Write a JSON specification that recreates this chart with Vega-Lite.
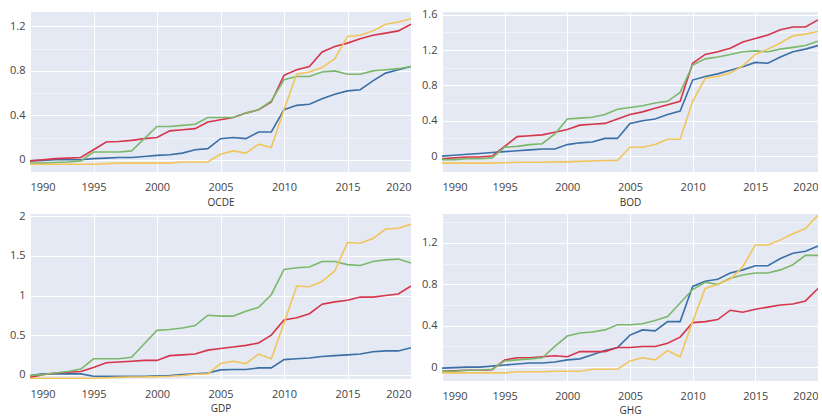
{
"$schema": "https://vega.github.io/schema/vega-lite/v6.json",
"padding": {"left": 9, "top": 8, "right": 0, "bottom": 0},
"background": "white",
"config": {
"view": {"fill": "#e4e9f3", "stroke": null},
"font": "Open Sans",
"axis": {"domain": false, "ticks": false, "gridColor": "white", "gridWidth": 1, "labelFont": "Open Sans", "labelFontSize": 11, "labelColor": "#444", "titleFont": "Open Sans", "titleFontSize": 10, "titleFontWeight": "normal", "titleColor": "#333"}
},
"datasets": {
"series": [
{"p":"OCDE","s":"s1","x":1990,"v":-0.01},{"p":"OCDE","s":"s1","x":1991,"v":-0.005},{"p":"OCDE","s":"s1","x":1992,"v":0},{"p":"OCDE","s":"s1","x":1993,"v":0},{"p":"OCDE","s":"s1","x":1994,"v":0},{"p":"OCDE","s":"s1","x":1995,"v":0.01},{"p":"OCDE","s":"s1","x":1996,"v":0.015},{"p":"OCDE","s":"s1","x":1997,"v":0.02},{"p":"OCDE","s":"s1","x":1998,"v":0.02},{"p":"OCDE","s":"s1","x":1999,"v":0.03},{"p":"OCDE","s":"s1","x":2000,"v":0.04},{"p":"OCDE","s":"s1","x":2001,"v":0.045},{"p":"OCDE","s":"s1","x":2002,"v":0.06},{"p":"OCDE","s":"s1","x":2003,"v":0.09},{"p":"OCDE","s":"s1","x":2004,"v":0.1},{"p":"OCDE","s":"s1","x":2005,"v":0.19},{"p":"OCDE","s":"s1","x":2006,"v":0.2},{"p":"OCDE","s":"s1","x":2007,"v":0.19},{"p":"OCDE","s":"s1","x":2008,"v":0.25},{"p":"OCDE","s":"s1","x":2009,"v":0.25},{"p":"OCDE","s":"s1","x":2010,"v":0.45},{"p":"OCDE","s":"s1","x":2011,"v":0.49},{"p":"OCDE","s":"s1","x":2012,"v":0.5},{"p":"OCDE","s":"s1","x":2013,"v":0.55},{"p":"OCDE","s":"s1","x":2014,"v":0.59},{"p":"OCDE","s":"s1","x":2015,"v":0.62},{"p":"OCDE","s":"s1","x":2016,"v":0.63},{"p":"OCDE","s":"s1","x":2017,"v":0.71},{"p":"OCDE","s":"s1","x":2018,"v":0.78},{"p":"OCDE","s":"s1","x":2019,"v":0.81},{"p":"OCDE","s":"s1","x":2020,"v":0.84},
{"p":"OCDE","s":"s2","x":1990,"v":-0.01},{"p":"OCDE","s":"s2","x":1991,"v":0},{"p":"OCDE","s":"s2","x":1992,"v":0.01},{"p":"OCDE","s":"s2","x":1993,"v":0.015},{"p":"OCDE","s":"s2","x":1994,"v":0.02},{"p":"OCDE","s":"s2","x":1995,"v":0.09},{"p":"OCDE","s":"s2","x":1996,"v":0.16},{"p":"OCDE","s":"s2","x":1997,"v":0.165},{"p":"OCDE","s":"s2","x":1998,"v":0.175},{"p":"OCDE","s":"s2","x":1999,"v":0.19},{"p":"OCDE","s":"s2","x":2000,"v":0.2},{"p":"OCDE","s":"s2","x":2001,"v":0.26},{"p":"OCDE","s":"s2","x":2002,"v":0.27},{"p":"OCDE","s":"s2","x":2003,"v":0.28},{"p":"OCDE","s":"s2","x":2004,"v":0.34},{"p":"OCDE","s":"s2","x":2005,"v":0.36},{"p":"OCDE","s":"s2","x":2006,"v":0.38},{"p":"OCDE","s":"s2","x":2007,"v":0.42},{"p":"OCDE","s":"s2","x":2008,"v":0.45},{"p":"OCDE","s":"s2","x":2009,"v":0.52},{"p":"OCDE","s":"s2","x":2010,"v":0.76},{"p":"OCDE","s":"s2","x":2011,"v":0.81},{"p":"OCDE","s":"s2","x":2012,"v":0.84},{"p":"OCDE","s":"s2","x":2013,"v":0.97},{"p":"OCDE","s":"s2","x":2014,"v":1.02},{"p":"OCDE","s":"s2","x":2015,"v":1.05},{"p":"OCDE","s":"s2","x":2016,"v":1.09},{"p":"OCDE","s":"s2","x":2017,"v":1.12},{"p":"OCDE","s":"s2","x":2018,"v":1.14},{"p":"OCDE","s":"s2","x":2019,"v":1.16},{"p":"OCDE","s":"s2","x":2020,"v":1.22},
{"p":"OCDE","s":"s3","x":1990,"v":-0.03},{"p":"OCDE","s":"s3","x":1991,"v":-0.03},{"p":"OCDE","s":"s3","x":1992,"v":-0.025},{"p":"OCDE","s":"s3","x":1993,"v":-0.02},{"p":"OCDE","s":"s3","x":1994,"v":-0.01},{"p":"OCDE","s":"s3","x":1995,"v":0.07},{"p":"OCDE","s":"s3","x":1996,"v":0.07},{"p":"OCDE","s":"s3","x":1997,"v":0.07},{"p":"OCDE","s":"s3","x":1998,"v":0.08},{"p":"OCDE","s":"s3","x":1999,"v":0.19},{"p":"OCDE","s":"s3","x":2000,"v":0.3},{"p":"OCDE","s":"s3","x":2001,"v":0.3},{"p":"OCDE","s":"s3","x":2002,"v":0.31},{"p":"OCDE","s":"s3","x":2003,"v":0.32},{"p":"OCDE","s":"s3","x":2004,"v":0.38},{"p":"OCDE","s":"s3","x":2005,"v":0.38},{"p":"OCDE","s":"s3","x":2006,"v":0.38},{"p":"OCDE","s":"s3","x":2007,"v":0.42},{"p":"OCDE","s":"s3","x":2008,"v":0.45},{"p":"OCDE","s":"s3","x":2009,"v":0.53},{"p":"OCDE","s":"s3","x":2010,"v":0.72},{"p":"OCDE","s":"s3","x":2011,"v":0.75},{"p":"OCDE","s":"s3","x":2012,"v":0.75},{"p":"OCDE","s":"s3","x":2013,"v":0.79},{"p":"OCDE","s":"s3","x":2014,"v":0.8},{"p":"OCDE","s":"s3","x":2015,"v":0.77},{"p":"OCDE","s":"s3","x":2016,"v":0.77},{"p":"OCDE","s":"s3","x":2017,"v":0.8},{"p":"OCDE","s":"s3","x":2018,"v":0.81},{"p":"OCDE","s":"s3","x":2019,"v":0.82},{"p":"OCDE","s":"s3","x":2020,"v":0.84},
{"p":"OCDE","s":"s4","x":1990,"v":-0.04},{"p":"OCDE","s":"s4","x":1991,"v":-0.04},{"p":"OCDE","s":"s4","x":1992,"v":-0.04},{"p":"OCDE","s":"s4","x":1993,"v":-0.04},{"p":"OCDE","s":"s4","x":1994,"v":-0.04},{"p":"OCDE","s":"s4","x":1995,"v":-0.04},{"p":"OCDE","s":"s4","x":1996,"v":-0.035},{"p":"OCDE","s":"s4","x":1997,"v":-0.03},{"p":"OCDE","s":"s4","x":1998,"v":-0.03},{"p":"OCDE","s":"s4","x":1999,"v":-0.03},{"p":"OCDE","s":"s4","x":2000,"v":-0.03},{"p":"OCDE","s":"s4","x":2001,"v":-0.03},{"p":"OCDE","s":"s4","x":2002,"v":-0.02},{"p":"OCDE","s":"s4","x":2003,"v":-0.02},{"p":"OCDE","s":"s4","x":2004,"v":-0.02},{"p":"OCDE","s":"s4","x":2005,"v":0.05},{"p":"OCDE","s":"s4","x":2006,"v":0.08},{"p":"OCDE","s":"s4","x":2007,"v":0.06},{"p":"OCDE","s":"s4","x":2008,"v":0.14},{"p":"OCDE","s":"s4","x":2009,"v":0.11},{"p":"OCDE","s":"s4","x":2010,"v":0.45},{"p":"OCDE","s":"s4","x":2011,"v":0.77},{"p":"OCDE","s":"s4","x":2012,"v":0.79},{"p":"OCDE","s":"s4","x":2013,"v":0.83},{"p":"OCDE","s":"s4","x":2014,"v":0.91},{"p":"OCDE","s":"s4","x":2015,"v":1.11},{"p":"OCDE","s":"s4","x":2016,"v":1.12},{"p":"OCDE","s":"s4","x":2017,"v":1.16},{"p":"OCDE","s":"s4","x":2018,"v":1.22},{"p":"OCDE","s":"s4","x":2019,"v":1.24},{"p":"OCDE","s":"s4","x":2020,"v":1.27},
{"p":"BOD","s":"s1","x":1990,"v":0},{"p":"BOD","s":"s1","x":1991,"v":0.01},{"p":"BOD","s":"s1","x":1992,"v":0.02},{"p":"BOD","s":"s1","x":1993,"v":0.03},{"p":"BOD","s":"s1","x":1994,"v":0.04},{"p":"BOD","s":"s1","x":1995,"v":0.05},{"p":"BOD","s":"s1","x":1996,"v":0.06},{"p":"BOD","s":"s1","x":1997,"v":0.07},{"p":"BOD","s":"s1","x":1998,"v":0.08},{"p":"BOD","s":"s1","x":1999,"v":0.08},{"p":"BOD","s":"s1","x":2000,"v":0.13},{"p":"BOD","s":"s1","x":2001,"v":0.15},{"p":"BOD","s":"s1","x":2002,"v":0.16},{"p":"BOD","s":"s1","x":2003,"v":0.2},{"p":"BOD","s":"s1","x":2004,"v":0.2},{"p":"BOD","s":"s1","x":2005,"v":0.37},{"p":"BOD","s":"s1","x":2006,"v":0.4},{"p":"BOD","s":"s1","x":2007,"v":0.42},{"p":"BOD","s":"s1","x":2008,"v":0.47},{"p":"BOD","s":"s1","x":2009,"v":0.51},{"p":"BOD","s":"s1","x":2010,"v":0.86},{"p":"BOD","s":"s1","x":2011,"v":0.9},{"p":"BOD","s":"s1","x":2012,"v":0.93},{"p":"BOD","s":"s1","x":2013,"v":0.97},{"p":"BOD","s":"s1","x":2014,"v":1.01},{"p":"BOD","s":"s1","x":2015,"v":1.06},{"p":"BOD","s":"s1","x":2016,"v":1.05},{"p":"BOD","s":"s1","x":2017,"v":1.12},{"p":"BOD","s":"s1","x":2018,"v":1.18},{"p":"BOD","s":"s1","x":2019,"v":1.21},{"p":"BOD","s":"s1","x":2020,"v":1.25},
{"p":"BOD","s":"s2","x":1990,"v":-0.03},{"p":"BOD","s":"s2","x":1991,"v":-0.02},{"p":"BOD","s":"s2","x":1992,"v":-0.01},{"p":"BOD","s":"s2","x":1993,"v":-0.01},{"p":"BOD","s":"s2","x":1994,"v":0},{"p":"BOD","s":"s2","x":1995,"v":0.11},{"p":"BOD","s":"s2","x":1996,"v":0.22},{"p":"BOD","s":"s2","x":1997,"v":0.23},{"p":"BOD","s":"s2","x":1998,"v":0.24},{"p":"BOD","s":"s2","x":1999,"v":0.27},{"p":"BOD","s":"s2","x":2000,"v":0.3},{"p":"BOD","s":"s2","x":2001,"v":0.35},{"p":"BOD","s":"s2","x":2002,"v":0.36},{"p":"BOD","s":"s2","x":2003,"v":0.37},{"p":"BOD","s":"s2","x":2004,"v":0.42},{"p":"BOD","s":"s2","x":2005,"v":0.47},{"p":"BOD","s":"s2","x":2006,"v":0.5},{"p":"BOD","s":"s2","x":2007,"v":0.54},{"p":"BOD","s":"s2","x":2008,"v":0.58},{"p":"BOD","s":"s2","x":2009,"v":0.62},{"p":"BOD","s":"s2","x":2010,"v":1.05},{"p":"BOD","s":"s2","x":2011,"v":1.15},{"p":"BOD","s":"s2","x":2012,"v":1.18},{"p":"BOD","s":"s2","x":2013,"v":1.22},{"p":"BOD","s":"s2","x":2014,"v":1.29},{"p":"BOD","s":"s2","x":2015,"v":1.33},{"p":"BOD","s":"s2","x":2016,"v":1.37},{"p":"BOD","s":"s2","x":2017,"v":1.43},{"p":"BOD","s":"s2","x":2018,"v":1.46},{"p":"BOD","s":"s2","x":2019,"v":1.46},{"p":"BOD","s":"s2","x":2020,"v":1.54},
{"p":"BOD","s":"s3","x":1990,"v":-0.04},{"p":"BOD","s":"s3","x":1991,"v":-0.04},{"p":"BOD","s":"s3","x":1992,"v":-0.03},{"p":"BOD","s":"s3","x":1993,"v":-0.03},{"p":"BOD","s":"s3","x":1994,"v":-0.02},{"p":"BOD","s":"s3","x":1995,"v":0.1},{"p":"BOD","s":"s3","x":1996,"v":0.11},{"p":"BOD","s":"s3","x":1997,"v":0.13},{"p":"BOD","s":"s3","x":1998,"v":0.14},{"p":"BOD","s":"s3","x":1999,"v":0.25},{"p":"BOD","s":"s3","x":2000,"v":0.42},{"p":"BOD","s":"s3","x":2001,"v":0.43},{"p":"BOD","s":"s3","x":2002,"v":0.44},{"p":"BOD","s":"s3","x":2003,"v":0.47},{"p":"BOD","s":"s3","x":2004,"v":0.53},{"p":"BOD","s":"s3","x":2005,"v":0.55},{"p":"BOD","s":"s3","x":2006,"v":0.57},{"p":"BOD","s":"s3","x":2007,"v":0.6},{"p":"BOD","s":"s3","x":2008,"v":0.62},{"p":"BOD","s":"s3","x":2009,"v":0.72},{"p":"BOD","s":"s3","x":2010,"v":1.03},{"p":"BOD","s":"s3","x":2011,"v":1.1},{"p":"BOD","s":"s3","x":2012,"v":1.12},{"p":"BOD","s":"s3","x":2013,"v":1.15},{"p":"BOD","s":"s3","x":2014,"v":1.18},{"p":"BOD","s":"s3","x":2015,"v":1.19},{"p":"BOD","s":"s3","x":2016,"v":1.18},{"p":"BOD","s":"s3","x":2017,"v":1.21},{"p":"BOD","s":"s3","x":2018,"v":1.23},{"p":"BOD","s":"s3","x":2019,"v":1.25},{"p":"BOD","s":"s3","x":2020,"v":1.3},
{"p":"BOD","s":"s4","x":1990,"v":-0.08},{"p":"BOD","s":"s4","x":1991,"v":-0.08},{"p":"BOD","s":"s4","x":1992,"v":-0.08},{"p":"BOD","s":"s4","x":1993,"v":-0.08},{"p":"BOD","s":"s4","x":1994,"v":-0.08},{"p":"BOD","s":"s4","x":1995,"v":-0.075},{"p":"BOD","s":"s4","x":1996,"v":-0.07},{"p":"BOD","s":"s4","x":1997,"v":-0.07},{"p":"BOD","s":"s4","x":1998,"v":-0.07},{"p":"BOD","s":"s4","x":1999,"v":-0.065},{"p":"BOD","s":"s4","x":2000,"v":-0.065},{"p":"BOD","s":"s4","x":2001,"v":-0.06},{"p":"BOD","s":"s4","x":2002,"v":-0.055},{"p":"BOD","s":"s4","x":2003,"v":-0.05},{"p":"BOD","s":"s4","x":2004,"v":-0.05},{"p":"BOD","s":"s4","x":2005,"v":0.1},{"p":"BOD","s":"s4","x":2006,"v":0.1},{"p":"BOD","s":"s4","x":2007,"v":0.13},{"p":"BOD","s":"s4","x":2008,"v":0.19},{"p":"BOD","s":"s4","x":2009,"v":0.19},{"p":"BOD","s":"s4","x":2010,"v":0.62},{"p":"BOD","s":"s4","x":2011,"v":0.88},{"p":"BOD","s":"s4","x":2012,"v":0.9},{"p":"BOD","s":"s4","x":2013,"v":0.94},{"p":"BOD","s":"s4","x":2014,"v":1.02},{"p":"BOD","s":"s4","x":2015,"v":1.15},{"p":"BOD","s":"s4","x":2016,"v":1.21},{"p":"BOD","s":"s4","x":2017,"v":1.28},{"p":"BOD","s":"s4","x":2018,"v":1.36},{"p":"BOD","s":"s4","x":2019,"v":1.38},{"p":"BOD","s":"s4","x":2020,"v":1.41},
{"p":"GDP","s":"s1","x":1990,"v":-0.01},{"p":"GDP","s":"s1","x":1991,"v":0.01},{"p":"GDP","s":"s1","x":1992,"v":0.01},{"p":"GDP","s":"s1","x":1993,"v":0.01},{"p":"GDP","s":"s1","x":1994,"v":0.01},{"p":"GDP","s":"s1","x":1995,"v":-0.02},{"p":"GDP","s":"s1","x":1996,"v":-0.02},{"p":"GDP","s":"s1","x":1997,"v":-0.02},{"p":"GDP","s":"s1","x":1998,"v":-0.02},{"p":"GDP","s":"s1","x":1999,"v":-0.02},{"p":"GDP","s":"s1","x":2000,"v":-0.015},{"p":"GDP","s":"s1","x":2001,"v":-0.01},{"p":"GDP","s":"s1","x":2002,"v":0},{"p":"GDP","s":"s1","x":2003,"v":0.01},{"p":"GDP","s":"s1","x":2004,"v":0.02},{"p":"GDP","s":"s1","x":2005,"v":0.06},{"p":"GDP","s":"s1","x":2006,"v":0.065},{"p":"GDP","s":"s1","x":2007,"v":0.065},{"p":"GDP","s":"s1","x":2008,"v":0.085},{"p":"GDP","s":"s1","x":2009,"v":0.085},{"p":"GDP","s":"s1","x":2010,"v":0.19},{"p":"GDP","s":"s1","x":2011,"v":0.2},{"p":"GDP","s":"s1","x":2012,"v":0.21},{"p":"GDP","s":"s1","x":2013,"v":0.23},{"p":"GDP","s":"s1","x":2014,"v":0.24},{"p":"GDP","s":"s1","x":2015,"v":0.25},{"p":"GDP","s":"s1","x":2016,"v":0.26},{"p":"GDP","s":"s1","x":2017,"v":0.29},{"p":"GDP","s":"s1","x":2018,"v":0.3},{"p":"GDP","s":"s1","x":2019,"v":0.3},{"p":"GDP","s":"s1","x":2020,"v":0.34},
{"p":"GDP","s":"s2","x":1990,"v":-0.035},{"p":"GDP","s":"s2","x":1991,"v":0},{"p":"GDP","s":"s2","x":1992,"v":0.02},{"p":"GDP","s":"s2","x":1993,"v":0.03},{"p":"GDP","s":"s2","x":1994,"v":0.04},{"p":"GDP","s":"s2","x":1995,"v":0.09},{"p":"GDP","s":"s2","x":1996,"v":0.15},{"p":"GDP","s":"s2","x":1997,"v":0.16},{"p":"GDP","s":"s2","x":1998,"v":0.17},{"p":"GDP","s":"s2","x":1999,"v":0.18},{"p":"GDP","s":"s2","x":2000,"v":0.18},{"p":"GDP","s":"s2","x":2001,"v":0.24},{"p":"GDP","s":"s2","x":2002,"v":0.25},{"p":"GDP","s":"s2","x":2003,"v":0.26},{"p":"GDP","s":"s2","x":2004,"v":0.31},{"p":"GDP","s":"s2","x":2005,"v":0.33},{"p":"GDP","s":"s2","x":2006,"v":0.35},{"p":"GDP","s":"s2","x":2007,"v":0.37},{"p":"GDP","s":"s2","x":2008,"v":0.4},{"p":"GDP","s":"s2","x":2009,"v":0.5},{"p":"GDP","s":"s2","x":2010,"v":0.69},{"p":"GDP","s":"s2","x":2011,"v":0.72},{"p":"GDP","s":"s2","x":2012,"v":0.77},{"p":"GDP","s":"s2","x":2013,"v":0.89},{"p":"GDP","s":"s2","x":2014,"v":0.92},{"p":"GDP","s":"s2","x":2015,"v":0.94},{"p":"GDP","s":"s2","x":2016,"v":0.98},{"p":"GDP","s":"s2","x":2017,"v":0.98},{"p":"GDP","s":"s2","x":2018,"v":1},{"p":"GDP","s":"s2","x":2019,"v":1.02},{"p":"GDP","s":"s2","x":2020,"v":1.12},
{"p":"GDP","s":"s3","x":1990,"v":-0.01},{"p":"GDP","s":"s3","x":1991,"v":0},{"p":"GDP","s":"s3","x":1992,"v":0.02},{"p":"GDP","s":"s3","x":1993,"v":0.04},{"p":"GDP","s":"s3","x":1994,"v":0.07},{"p":"GDP","s":"s3","x":1995,"v":0.2},{"p":"GDP","s":"s3","x":1996,"v":0.2},{"p":"GDP","s":"s3","x":1997,"v":0.2},{"p":"GDP","s":"s3","x":1998,"v":0.22},{"p":"GDP","s":"s3","x":1999,"v":0.39},{"p":"GDP","s":"s3","x":2000,"v":0.56},{"p":"GDP","s":"s3","x":2001,"v":0.57},{"p":"GDP","s":"s3","x":2002,"v":0.59},{"p":"GDP","s":"s3","x":2003,"v":0.62},{"p":"GDP","s":"s3","x":2004,"v":0.75},{"p":"GDP","s":"s3","x":2005,"v":0.74},{"p":"GDP","s":"s3","x":2006,"v":0.74},{"p":"GDP","s":"s3","x":2007,"v":0.8},{"p":"GDP","s":"s3","x":2008,"v":0.85},{"p":"GDP","s":"s3","x":2009,"v":1.01},{"p":"GDP","s":"s3","x":2010,"v":1.33},{"p":"GDP","s":"s3","x":2011,"v":1.35},{"p":"GDP","s":"s3","x":2012,"v":1.36},{"p":"GDP","s":"s3","x":2013,"v":1.43},{"p":"GDP","s":"s3","x":2014,"v":1.43},{"p":"GDP","s":"s3","x":2015,"v":1.39},{"p":"GDP","s":"s3","x":2016,"v":1.38},{"p":"GDP","s":"s3","x":2017,"v":1.43},{"p":"GDP","s":"s3","x":2018,"v":1.45},{"p":"GDP","s":"s3","x":2019,"v":1.46},{"p":"GDP","s":"s3","x":2020,"v":1.41},
{"p":"GDP","s":"s4","x":1990,"v":-0.045},{"p":"GDP","s":"s4","x":1991,"v":-0.045},{"p":"GDP","s":"s4","x":1992,"v":-0.045},{"p":"GDP","s":"s4","x":1993,"v":-0.045},{"p":"GDP","s":"s4","x":1994,"v":-0.045},{"p":"GDP","s":"s4","x":1995,"v":-0.045},{"p":"GDP","s":"s4","x":1996,"v":-0.04},{"p":"GDP","s":"s4","x":1997,"v":-0.035},{"p":"GDP","s":"s4","x":1998,"v":-0.03},{"p":"GDP","s":"s4","x":1999,"v":-0.03},{"p":"GDP","s":"s4","x":2000,"v":-0.025},{"p":"GDP","s":"s4","x":2001,"v":-0.02},{"p":"GDP","s":"s4","x":2002,"v":-0.01},{"p":"GDP","s":"s4","x":2003,"v":0.005},{"p":"GDP","s":"s4","x":2004,"v":0.01},{"p":"GDP","s":"s4","x":2005,"v":0.14},{"p":"GDP","s":"s4","x":2006,"v":0.17},{"p":"GDP","s":"s4","x":2007,"v":0.14},{"p":"GDP","s":"s4","x":2008,"v":0.26},{"p":"GDP","s":"s4","x":2009,"v":0.2},{"p":"GDP","s":"s4","x":2010,"v":0.65},{"p":"GDP","s":"s4","x":2011,"v":1.12},{"p":"GDP","s":"s4","x":2012,"v":1.11},{"p":"GDP","s":"s4","x":2013,"v":1.18},{"p":"GDP","s":"s4","x":2014,"v":1.31},{"p":"GDP","s":"s4","x":2015,"v":1.67},{"p":"GDP","s":"s4","x":2016,"v":1.66},{"p":"GDP","s":"s4","x":2017,"v":1.72},{"p":"GDP","s":"s4","x":2018,"v":1.84},{"p":"GDP","s":"s4","x":2019,"v":1.85},{"p":"GDP","s":"s4","x":2020,"v":1.9},
{"p":"GHG","s":"s1","x":1990,"v":-0.01},{"p":"GHG","s":"s1","x":1991,"v":-0.005},{"p":"GHG","s":"s1","x":1992,"v":0},{"p":"GHG","s":"s1","x":1993,"v":0},{"p":"GHG","s":"s1","x":1994,"v":0.01},{"p":"GHG","s":"s1","x":1995,"v":0.02},{"p":"GHG","s":"s1","x":1996,"v":0.03},{"p":"GHG","s":"s1","x":1997,"v":0.04},{"p":"GHG","s":"s1","x":1998,"v":0.04},{"p":"GHG","s":"s1","x":1999,"v":0.05},{"p":"GHG","s":"s1","x":2000,"v":0.07},{"p":"GHG","s":"s1","x":2001,"v":0.08},{"p":"GHG","s":"s1","x":2002,"v":0.12},{"p":"GHG","s":"s1","x":2003,"v":0.16},{"p":"GHG","s":"s1","x":2004,"v":0.19},{"p":"GHG","s":"s1","x":2005,"v":0.31},{"p":"GHG","s":"s1","x":2006,"v":0.36},{"p":"GHG","s":"s1","x":2007,"v":0.35},{"p":"GHG","s":"s1","x":2008,"v":0.44},{"p":"GHG","s":"s1","x":2009,"v":0.44},{"p":"GHG","s":"s1","x":2010,"v":0.78},{"p":"GHG","s":"s1","x":2011,"v":0.83},{"p":"GHG","s":"s1","x":2012,"v":0.85},{"p":"GHG","s":"s1","x":2013,"v":0.91},{"p":"GHG","s":"s1","x":2014,"v":0.94},{"p":"GHG","s":"s1","x":2015,"v":0.98},{"p":"GHG","s":"s1","x":2016,"v":0.98},{"p":"GHG","s":"s1","x":2017,"v":1.05},{"p":"GHG","s":"s1","x":2018,"v":1.1},{"p":"GHG","s":"s1","x":2019,"v":1.12},{"p":"GHG","s":"s1","x":2020,"v":1.17},
{"p":"GHG","s":"s2","x":1990,"v":-0.04},{"p":"GHG","s":"s2","x":1991,"v":-0.035},{"p":"GHG","s":"s2","x":1992,"v":-0.03},{"p":"GHG","s":"s2","x":1993,"v":-0.03},{"p":"GHG","s":"s2","x":1994,"v":-0.025},{"p":"GHG","s":"s2","x":1995,"v":0.07},{"p":"GHG","s":"s2","x":1996,"v":0.09},{"p":"GHG","s":"s2","x":1997,"v":0.09},{"p":"GHG","s":"s2","x":1998,"v":0.1},{"p":"GHG","s":"s2","x":1999,"v":0.11},{"p":"GHG","s":"s2","x":2000,"v":0.1},{"p":"GHG","s":"s2","x":2001,"v":0.15},{"p":"GHG","s":"s2","x":2002,"v":0.15},{"p":"GHG","s":"s2","x":2003,"v":0.15},{"p":"GHG","s":"s2","x":2004,"v":0.19},{"p":"GHG","s":"s2","x":2005,"v":0.19},{"p":"GHG","s":"s2","x":2006,"v":0.2},{"p":"GHG","s":"s2","x":2007,"v":0.2},{"p":"GHG","s":"s2","x":2008,"v":0.23},{"p":"GHG","s":"s2","x":2009,"v":0.29},{"p":"GHG","s":"s2","x":2010,"v":0.43},{"p":"GHG","s":"s2","x":2011,"v":0.44},{"p":"GHG","s":"s2","x":2012,"v":0.46},{"p":"GHG","s":"s2","x":2013,"v":0.55},{"p":"GHG","s":"s2","x":2014,"v":0.53},{"p":"GHG","s":"s2","x":2015,"v":0.56},{"p":"GHG","s":"s2","x":2016,"v":0.58},{"p":"GHG","s":"s2","x":2017,"v":0.6},{"p":"GHG","s":"s2","x":2018,"v":0.61},{"p":"GHG","s":"s2","x":2019,"v":0.64},{"p":"GHG","s":"s2","x":2020,"v":0.76},
{"p":"GHG","s":"s3","x":1990,"v":-0.04},{"p":"GHG","s":"s3","x":1991,"v":-0.04},{"p":"GHG","s":"s3","x":1992,"v":-0.03},{"p":"GHG","s":"s3","x":1993,"v":-0.03},{"p":"GHG","s":"s3","x":1994,"v":-0.02},{"p":"GHG","s":"s3","x":1995,"v":0.06},{"p":"GHG","s":"s3","x":1996,"v":0.07},{"p":"GHG","s":"s3","x":1997,"v":0.08},{"p":"GHG","s":"s3","x":1998,"v":0.09},{"p":"GHG","s":"s3","x":1999,"v":0.2},{"p":"GHG","s":"s3","x":2000,"v":0.3},{"p":"GHG","s":"s3","x":2001,"v":0.33},{"p":"GHG","s":"s3","x":2002,"v":0.34},{"p":"GHG","s":"s3","x":2003,"v":0.36},{"p":"GHG","s":"s3","x":2004,"v":0.41},{"p":"GHG","s":"s3","x":2005,"v":0.41},{"p":"GHG","s":"s3","x":2006,"v":0.42},{"p":"GHG","s":"s3","x":2007,"v":0.45},{"p":"GHG","s":"s3","x":2008,"v":0.49},{"p":"GHG","s":"s3","x":2009,"v":0.62},{"p":"GHG","s":"s3","x":2010,"v":0.75},{"p":"GHG","s":"s3","x":2011,"v":0.82},{"p":"GHG","s":"s3","x":2012,"v":0.8},{"p":"GHG","s":"s3","x":2013,"v":0.86},{"p":"GHG","s":"s3","x":2014,"v":0.89},{"p":"GHG","s":"s3","x":2015,"v":0.91},{"p":"GHG","s":"s3","x":2016,"v":0.91},{"p":"GHG","s":"s3","x":2017,"v":0.94},{"p":"GHG","s":"s3","x":2018,"v":0.99},{"p":"GHG","s":"s3","x":2019,"v":1.08},{"p":"GHG","s":"s3","x":2020,"v":1.08},
{"p":"GHG","s":"s4","x":1990,"v":-0.055},{"p":"GHG","s":"s4","x":1991,"v":-0.055},{"p":"GHG","s":"s4","x":1992,"v":-0.055},{"p":"GHG","s":"s4","x":1993,"v":-0.055},{"p":"GHG","s":"s4","x":1994,"v":-0.055},{"p":"GHG","s":"s4","x":1995,"v":-0.055},{"p":"GHG","s":"s4","x":1996,"v":-0.045},{"p":"GHG","s":"s4","x":1997,"v":-0.045},{"p":"GHG","s":"s4","x":1998,"v":-0.045},{"p":"GHG","s":"s4","x":1999,"v":-0.04},{"p":"GHG","s":"s4","x":2000,"v":-0.04},{"p":"GHG","s":"s4","x":2001,"v":-0.04},{"p":"GHG","s":"s4","x":2002,"v":-0.02},{"p":"GHG","s":"s4","x":2003,"v":-0.02},{"p":"GHG","s":"s4","x":2004,"v":-0.02},{"p":"GHG","s":"s4","x":2005,"v":0.06},{"p":"GHG","s":"s4","x":2006,"v":0.09},{"p":"GHG","s":"s4","x":2007,"v":0.07},{"p":"GHG","s":"s4","x":2008,"v":0.16},{"p":"GHG","s":"s4","x":2009,"v":0.1},{"p":"GHG","s":"s4","x":2010,"v":0.44},{"p":"GHG","s":"s4","x":2011,"v":0.76},{"p":"GHG","s":"s4","x":2012,"v":0.8},{"p":"GHG","s":"s4","x":2013,"v":0.85},{"p":"GHG","s":"s4","x":2014,"v":0.97},{"p":"GHG","s":"s4","x":2015,"v":1.18},{"p":"GHG","s":"s4","x":2016,"v":1.18},{"p":"GHG","s":"s4","x":2017,"v":1.23},{"p":"GHG","s":"s4","x":2018,"v":1.29},{"p":"GHG","s":"s4","x":2019,"v":1.34},{"p":"GHG","s":"s4","x":2020,"v":1.47}
]
},
"data": {"name": "series"},
"columns": 2,
"bounds": "flush",
"align": "each",
"spacing": {"row": 42, "column": 31},
"concat": [
{"width": 381, "height": 160,
"transform": [{"filter": "datum.p == 'OCDE'"}],
"mark": {"type": "line", "strokeWidth": 1.6, "clip": true},
"encoding": {
"x": {"field": "x", "type": "quantitative", "scale": {"domain": [1990, 2020], "nice": false, "zero": false}, "axis": {"title": "OCDE", "values": [1990,1995,2000,2005,2010,2015,2020], "format": "d", "labelFlush": true, "labelPadding": 9, "titlePadding": 5}},
"y": {"field": "v", "type": "quantitative", "scale": {"domain": [-0.11, 1.33], "nice": false, "zero": false}, "axis": {"title": null, "values": [0,0.2,0.4,0.6,0.8,1,1.2], "format": "~g", "labelPadding": 5, "labelExpr": "abs(round(datum.value*10)) % 4 == 0 ? datum.label : ''", "gridOpacity": {"condition": {"test": "abs(round(datum.value*10)) % 4 == 0", "value": 1}, "value": 0.5}}},
"color": {"field": "s", "type": "nominal", "scale": {"domain": ["s1","s2","s3","s4"], "range": ["#3b6fa6","#d6354b","#7bb86c","#f2c55c"]}, "legend": null}
}},
{"width": 376, "height": 160,
"transform": [{"filter": "datum.p == 'BOD'"}],
"mark": {"type": "line", "strokeWidth": 1.6, "clip": true},
"encoding": {
"x": {"field": "x", "type": "quantitative", "scale": {"domain": [1990, 2020], "nice": false, "zero": false}, "axis": {"title": "BOD", "values": [1990,1995,2000,2005,2010,2015,2020], "format": "d", "labelFlush": true, "labelPadding": 9, "titlePadding": 5}},
"y": {"field": "v", "type": "quantitative", "scale": {"domain": [-0.18, 1.63], "nice": false, "zero": false}, "axis": {"title": null, "values": [0,0.2,0.4,0.6,0.8,1,1.2,1.4,1.6], "format": "~g", "labelPadding": 5, "labelExpr": "abs(round(datum.value*10)) % 4 == 0 ? datum.label : ''", "gridOpacity": {"condition": {"test": "abs(round(datum.value*10)) % 4 == 0", "value": 1}, "value": 0.5}}},
"color": {"field": "s", "type": "nominal", "scale": {"domain": ["s1","s2","s3","s4"], "range": ["#3b6fa6","#d6354b","#7bb86c","#f2c55c"]}, "legend": null}
}},
{"width": 381, "height": 165,
"transform": [{"filter": "datum.p == 'GDP'"}],
"mark": {"type": "line", "strokeWidth": 1.6, "clip": true},
"encoding": {
"x": {"field": "x", "type": "quantitative", "scale": {"domain": [1990, 2020], "nice": false, "zero": false}, "axis": {"title": "GDP", "values": [1990,1995,2000,2005,2010,2015,2020], "format": "d", "labelFlush": true, "labelPadding": 9, "titlePadding": 4}},
"y": {"field": "v", "type": "quantitative", "scale": {"domain": [-0.055, 2.03], "nice": false, "zero": false}, "axis": {"title": null, "values": [0,0.5,1,1.5,2], "format": "~g", "labelPadding": 5}},
"color": {"field": "s", "type": "nominal", "scale": {"domain": ["s1","s2","s3","s4"], "range": ["#3b6fa6","#d6354b","#7bb86c","#f2c55c"]}, "legend": null}
}},
{"width": 376, "height": 167,
"transform": [{"filter": "datum.p == 'GHG'"}],
"mark": {"type": "line", "strokeWidth": 1.6, "clip": true},
"encoding": {
"x": {"field": "x", "type": "quantitative", "scale": {"domain": [1990, 2020], "nice": false, "zero": false}, "axis": {"title": "GHG", "values": [1990,1995,2000,2005,2010,2015,2020], "format": "d", "labelFlush": true, "labelPadding": 9, "titlePadding": 4}},
"y": {"field": "v", "type": "quantitative", "scale": {"domain": [-0.134, 1.48], "nice": false, "zero": false}, "axis": {"title": null, "values": [0,0.2,0.4,0.6,0.8,1,1.2,1.4], "format": "~g", "labelPadding": 5, "labelExpr": "abs(round(datum.value*10)) % 4 == 0 ? datum.label : ''", "gridOpacity": {"condition": {"test": "abs(round(datum.value*10)) % 4 == 0", "value": 1}, "value": 0.5}}},
"color": {"field": "s", "type": "nominal", "scale": {"domain": ["s1","s2","s3","s4"], "range": ["#3b6fa6","#d6354b","#7bb86c","#f2c55c"]}, "legend": null}
}}
]
}
